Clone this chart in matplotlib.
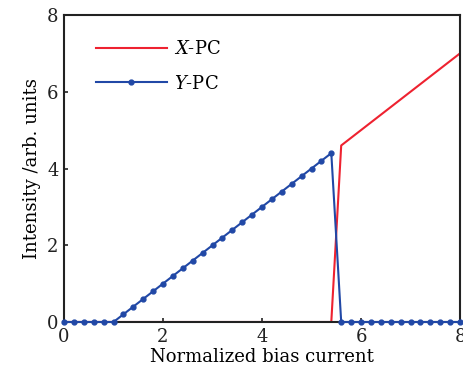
import matplotlib
matplotlib.use("Agg")
import matplotlib.pyplot as plt
import numpy as np

plt.rcParams['font.family'] = ['DejaVu Serif']
plt.rcParams['mathtext.fontset'] = 'dejavuserif'

# Data
x_pc_x = [0.0, 5.4, 5.6, 8.0]
x_pc_y = [0.0, 0.0, 4.6, 7.0]

y_pc_x = [0.0, 0.2, 0.4, 0.6, 0.8, 1.0, 1.2, 1.4, 1.6, 1.8, 2.0, 2.2, 2.4, 2.6, 2.8,
          3.0, 3.2, 3.4, 3.6, 3.8, 4.0, 4.2, 4.4, 4.6, 4.8, 5.0, 5.2, 5.4,
          5.6, 5.8, 6.0, 6.2, 6.4, 6.6, 6.8, 7.0, 7.2, 7.4, 7.6, 7.8, 8.0]
y_pc_y = [0.0, 0.0, 0.0, 0.0, 0.0, 0.0, 0.2, 0.4, 0.6, 0.8, 1.0, 1.2, 1.4, 1.6, 1.8,
          2.0, 2.2, 2.4, 2.6, 2.8, 3.0, 3.2, 3.4, 3.6, 3.8, 4.0, 4.2, 4.4,
          0.0, 0.0, 0.0, 0.0, 0.0, 0.0, 0.0, 0.0, 0.0, 0.0, 0.0, 0.0, 0.0]

xticks = [0, 2, 4, 6, 8]
yticks = [0, 2, 4, 6, 8]

fig = plt.figure(figsize=(4.63, 3.78), dpi=100)
ax = fig.add_axes([64/463, 1-322/378, (460-64)/463, (322-15)/378])

ax.plot(x_pc_x, x_pc_y, color='#ee2230', lw=1.5, label=r'$\mathit{X}$-PC', zorder=2)
ax.plot(y_pc_x, y_pc_y, color='#2148a6', lw=1.5, marker='o', ms=3.5, label=r'$\mathit{Y}$-PC', zorder=3, clip_on=False)

ax.set_xlim(0, 8)
ax.set_ylim(0, 8)
ax.set_xticks(xticks)
ax.set_yticks(yticks)
ax.tick_params(direction='in', length=3, width=1.2, labelsize=13, pad=4, colors='#222222')
for s in ax.spines.values():
    s.set_linewidth(1.5)
    s.set_color('#222222')

ax.set_xlabel('Normalized bias current', fontsize=13, labelpad=2)
ax.set_ylabel('Intensity /arb. units', fontsize=13, labelpad=4)

leg = ax.legend(loc='upper left', frameon=False, fontsize=13, handlelength=3.9,
                handletextpad=0.4, labelspacing=0.9, bbox_to_anchor=(0.04, 0.97))

fig.savefig('out.png', dpi=100)
